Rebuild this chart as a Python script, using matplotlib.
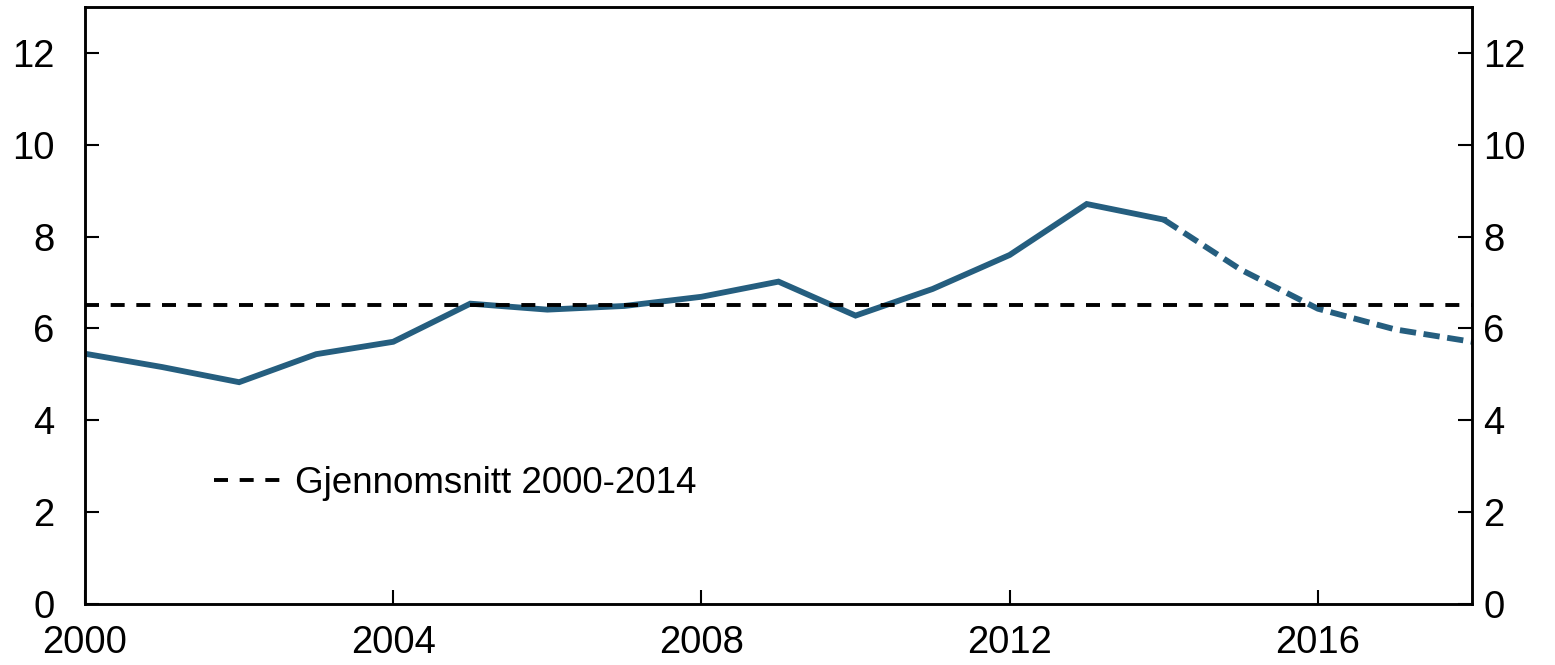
import numpy as np
import matplotlib.pyplot as plt

plt.rcParams['font.family'] = ['Liberation Sans', 'DejaVu Sans']

# faktiske tall og anslag
years = [2000, 2001, 2002, 2003, 2004, 2005, 2006, 2007, 2008, 2009,
         2010, 2011, 2012, 2013, 2014]
values = [5.45, 5.16, 4.83, 5.44, 5.71, 6.54, 6.41, 6.49, 6.69, 7.02,
          6.28, 6.86, 7.60, 8.71, 8.37]
proj_years = [2014, 2015, 2016, 2017, 2018]
proj_values = [8.37, 7.28, 6.43, 5.98, 5.71]
average = 6.51
avg_label = 'Gjennomsnitt 2000-2014'

color = '#255e7f'

fig = plt.figure(figsize=(15.55, 6.65), dpi=100)
ax = fig.add_axes([85 / 1555, 61 / 665, 1387 / 1555, 597 / 665])

ax.plot(years, values, color=color, lw=4.2, solid_joinstyle='miter')
ax.plot(proj_years, proj_values, color=color, lw=4.2, dashes=(2.8, 1.3))
ax.axhline(average, color='black', lw=2.8, dashes=(3.6, 3.0), label=avg_label)

ax.set_xlim(2000, 2018)
ax.set_ylim(0, 13)
ax.set_xticks([2000, 2004, 2008, 2012, 2016])
ax.set_yticks(np.arange(0, 13, 2))

ax.tick_params(axis='both', direction='in', labelsize=27.5, width=1.5, length=10)
ax.tick_params(axis='x', pad=15)
ax.tick_params(axis='y', pad=22)
for s in ax.spines.values():
    s.set_linewidth(1.8)

# høyre akse med egne etiketter
ax2 = ax.twinx()
ax2.set_ylim(ax.get_ylim())
ax2.set_yticks(np.arange(0, 13, 2))
ax2.tick_params(axis='y', direction='in', labelsize=27.5, width=1.5, length=10, pad=8)
for s in ax2.spines.values():
    s.set_linewidth(1.8)

ax.legend(loc='upper left', bbox_to_anchor=(0.08, 0.262), frameon=False,
          fontsize=26.5, handlelength=1.8, handletextpad=0.4, borderpad=0)

fig.savefig('out.png', dpi=100)
